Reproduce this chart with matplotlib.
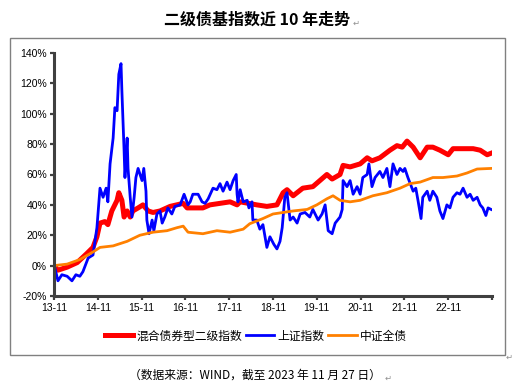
import matplotlib
matplotlib.use("Agg")
import matplotlib.pyplot as plt
from matplotlib.patches import Rectangle

plt.rcParams['font.family'] = ['Liberation Sans', 'Noto Sans CJK SC', 'DejaVu Sans']
cjk = ['Noto Sans CJK SC', 'DejaVu Sans']

# 横轴: 距 2013-11 的年数
x_labels = ['13-11', '14-11', '15-11', '16-11', '17-11', '18-11', '19-11', '20-11', '21-11', '22-11', '']

# 混合债券型二级指数 (%)
t_red = [0, 0.09, 0.30, 0.53, 0.75, 0.89, 0.98, 1.05, 1.16, 1.23, 1.32, 1.44, 1.48, 1.55, 1.60,
         1.67, 1.74, 1.80, 1.92, 2.03, 2.15, 2.26, 2.42, 2.65, 2.95, 3.04, 3.40, 3.56, 4.02, 4.18,
         4.25, 4.63, 4.86, 5.09, 5.23, 5.32, 5.46, 5.68, 5.91, 6.07, 6.23, 6.35, 6.53, 6.60, 6.76,
         6.99, 7.15, 7.26, 7.44, 7.67, 7.83, 7.95, 8.06, 8.20, 8.36, 8.52, 8.65, 8.81, 9.00, 9.11,
         9.34, 9.57, 9.73, 9.89, 9.98]
v_red = [0, -3, -1, 2, 8, 12, 19, 28, 29, 27, 36, 43, 48, 43, 32,
         36, 32, 36, 38, 40, 36, 35, 36, 39, 41, 38, 38, 40, 42, 40,
         42, 40, 39, 40, 48, 50, 46, 51, 52, 56, 60, 57, 60, 66, 65,
         67, 71, 69, 71, 76, 79, 78, 82, 78, 71, 78, 78, 76, 73, 77,
         77, 77, 76, 73, 74]

# 上证指数 (%)
t_blue = [0.00, 0.09, 0.18, 0.30, 0.41, 0.50, 0.59, 0.66, 0.78, 0.89, 0.98, 1.05, 1.12, 1.19, 1.23,
          1.28, 1.35, 1.39, 1.44, 1.48, 1.53, 1.55, 1.60, 1.62, 1.67, 1.69, 1.74, 1.78, 1.83, 1.87,
          1.92, 2.01, 2.05, 2.10, 2.12, 2.17, 2.24, 2.28, 2.35, 2.42, 2.47, 2.53, 2.60, 2.69, 2.76,
          2.88, 2.97, 3.06, 3.11, 3.17, 3.29, 3.38, 3.45, 3.52, 3.63, 3.72, 3.79, 3.86, 3.95, 4.02,
          4.09, 4.16, 4.18, 4.20, 4.25, 4.32, 4.41, 4.45, 4.52, 4.54, 4.63, 4.70, 4.77, 4.86, 4.93,
          5.02, 5.09, 5.16, 5.21, 5.27, 5.32, 5.39, 5.46, 5.55, 5.62, 5.73, 5.84, 5.91, 6.03, 6.12,
          6.19, 6.26, 6.35, 6.42, 6.53, 6.58, 6.60, 6.69, 6.76, 6.83, 6.92, 6.99, 7.05, 7.15, 7.19,
          7.26, 7.33, 7.44, 7.51, 7.60, 7.67, 7.74, 7.83, 7.90, 7.97, 8.01, 8.08, 8.20, 8.26, 8.31,
          8.38, 8.42, 8.52, 8.58, 8.65, 8.74, 8.81, 8.88, 8.97, 9.04, 9.11, 9.20, 9.27, 9.34, 9.43,
          9.50, 9.57, 9.66, 9.73, 9.79, 9.86, 9.91, 9.98]
v_blue = [1, -10, -6, -7, -10, -6, -7, -4, 5, 7, 25, 51, 45, 51, 42,
          67, 84, 104, 102, 126, 133, 115, 76, 58, 84, 64, 45, 32, 45, 58,
          64, 56, 64, 49, 30, 21, 30, 23, 34, 36, 28, 32, 38, 34, 39,
          40, 47, 40, 42, 47, 47, 42, 41, 44, 51, 50, 54, 49, 55, 50,
          56, 60, 47, 42, 50, 42, 43, 38, 42, 30, 30, 24, 27, 12, 19,
          14, 11, 16, 25, 45, 48, 30, 32, 28, 34, 35, 32, 37, 30, 34,
          40, 23, 21, 28, 32, 37, 56, 52, 56, 47, 52, 47, 58, 60, 67,
          52, 58, 62, 58, 64, 52, 67, 60, 64, 62, 64, 58, 49, 51, 43,
          31, 45, 49, 43, 49, 45, 36, 31, 40, 38, 45, 48, 47, 51, 45,
          47, 43, 45, 40, 38, 33, 38, 37]

# 中证全债 (%)
t_orange = [0, 0.30, 0.59, 0.89, 1.05, 1.35, 1.67, 1.96, 2.26, 2.58, 2.81, 2.95, 3.06, 3.40, 3.72,
            4.02, 4.32, 4.47, 4.77, 5.00, 5.23, 5.46, 5.78, 6.00, 6.23, 6.37, 6.53, 6.76, 6.99, 7.28,
            7.60, 7.90, 8.13, 8.36, 8.65, 8.88, 9.20, 9.43, 9.66, 9.98]
v_orange = [0, 1, 4, 9, 12, 13, 16, 20, 22, 23, 25, 26, 22, 21, 23,
            22, 24, 27.6, 31, 34, 35, 36, 37, 40, 44, 46, 43, 42, 43, 46,
            48, 51, 54, 55, 58, 58, 59, 61, 63.6, 64]

fig = plt.figure(figsize=(5.23, 3.84), dpi=100)
ax = fig.add_axes([54/523, 1 - 296/384, 438/523, 243/384])

ax.plot(t_red, v_red, color='#ff0000', lw=3.6, solid_joinstyle='round', label='混合债券型二级指数')
ax.plot(t_blue, v_blue, color='#0000ff', lw=2.0, label='上证指数')
ax.plot(t_orange, v_orange, color='#ff8000', lw=2.0, label='中证全债')

ax.set_xlim(0, 10)
ax.set_ylim(-20, 140)
ax.set_xticks(range(11))
ax.set_xticklabels(x_labels)
ax.set_yticks(range(-20, 141, 20))
ax.set_yticklabels([f'{v}%' for v in range(-20, 141, 20)])

for s in ['top', 'right']:
    ax.spines[s].set_visible(False)
for s in ['left', 'bottom']:
    ax.spines[s].set_color('#404040')
    ax.spines[s].set_linewidth(2.2)
ax.tick_params(colors='#404040', width=1.6, length=3, labelsize=7.5, labelcolor='black', pad=2)

fig.legend(loc='center', bbox_to_anchor=(256/523, 1 - 336/384), ncol=3, frameon=False,
           prop={'family': cjk, 'size': 8.5}, handlelength=2.4, handletextpad=0.3,
           columnspacing=0.3)

fig.text(257/523, 1 - 20/384, '二级债基指数近 10 年走势', ha='center', va='center',
         family=cjk, fontsize=11.5, fontweight='bold')
fig.text(255/523, 1 - 375/384, '（数据来源：WIND，截至 2023 年 11 月 27 日）', ha='center',
         va='center', family=cjk, fontsize=8.5)
for px, py in [(356, 23), (509, 357), (388, 378)]:
    fig.text(px/523, 1 - py/384, '↵', ha='center', va='center', fontsize=6,
             color='#909090', family=['DejaVu Sans'])

fig.patches.append(Rectangle((10/523, 1 - 355/384), 495/523, 317/384, transform=fig.transFigure,
                             fill=False, edgecolor='#808080', lw=1))

fig.savefig('out.png', dpi=100)
